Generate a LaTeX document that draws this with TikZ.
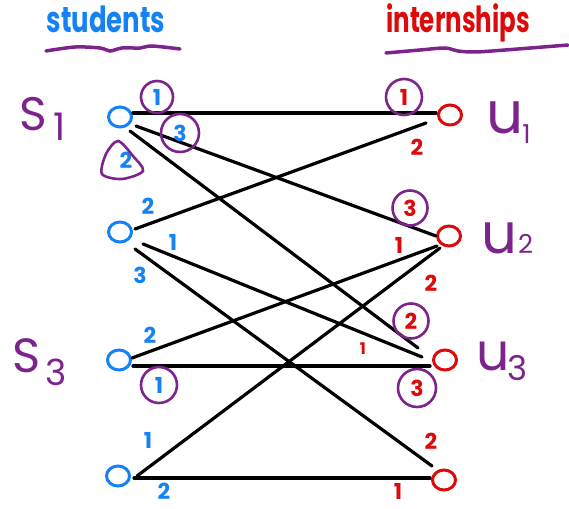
\documentclass[tikz,border=0pt]{standalone}
\usepackage{fontspec}
\setmainfont{Poppins}
\usetikzlibrary{shapes.geometric}
\definecolor{sblue}{RGB}{20,130,245}
\definecolor{ired}{RGB}{220,10,10}
\definecolor{ppl}{RGB}{125,35,140}
\begin{document}
\begin{tikzpicture}[x=1pt,y=-1pt,
  vtx/.style={draw, ellipse, line width=3pt, minimum width=23pt, minimum height=20pt, inner sep=0pt},
  svtx/.style={vtx, draw=sblue},
  ivtx/.style={vtx, draw=ired},
  edge/.style={black, line width=3.2pt, line cap=round},
  lab/.style={font=\fontsize{22}{22}\selectfont\bfseries, inner sep=0pt},
  slab/.style={lab, text=sblue},
  ilab/.style={lab, text=ired},
  ring/.style={draw=ppl, line width=2.6pt, circle, minimum size=34pt, inner sep=0pt},
  uline/.style={ppl, line width=3.5pt, line cap=round},
  big/.style={text=ppl, inner sep=0pt, anchor=base west}
]
\useasboundingbox (0,0) rectangle (569,508);

% headers
\node[text=sblue, font=\fontsize{36}{36}\selectfont\bfseries, xscale=0.72, anchor=base] (hs) at (106,33) {students};
\draw[uline] plot[smooth] coordinates {(46,51) (75,47) (100,48) (110,51) (122,48) (140,48) (152,46) (180,49)};
\node[text=ired, font=\fontsize{36}{36}\selectfont\bfseries, xscale=0.68, anchor=base] (hi) at (458,33) {internships};
\draw[uline] plot[smooth] coordinates {(386,53) (420,50) (445,48) (458,51) (475,52) (505,50) (568,45)};

% side labels
\node[big] (S1) at (19,130) {\fontsize{47}{47}\selectfont S\hspace{7pt}\raisebox{-10pt}{\fontsize{38}{38}\selectfont 1}};
\node[big] (S3) at (12,372) {\fontsize{48}{48}\selectfont S\hspace{5pt}\raisebox{-13pt}{\fontsize{36}{36}\selectfont 3}};
\node[big] (U1) at (486,133) {\fontsize{58}{58}\selectfont u\hspace{-1pt}\raisebox{-10pt}{\fontsize{26}{26}\selectfont 1}};
\node[big] (U2) at (481,253) {\fontsize{56}{56}\selectfont u\hspace{1pt}\raisebox{0pt}{\fontsize{26}{26}\selectfont 2}};
\node[big] (U3) at (476,370) {\fontsize{52}{52}\selectfont u\hspace{-2pt}\raisebox{-10pt}{\fontsize{34}{34}\selectfont 3}};

% vertices
\node[svtx] (L1) at (120,117) {};
\node[svtx] (L2) at (120,232) {};
\node[svtx] (L3) at (119,360) {};
\node[svtx] (L4) at (118,476) {};
\node[ivtx] (R1) at (450,115) {};
\node[ivtx] (R2) at (449,236) {};
\node[ivtx] (R3) at (445,360) {};
\node[ivtx] (R4) at (444,480) {};

% edges
\draw[edge] ([shift={(13,-4)}]L1.center) -- ([shift={(-14,-2)}]R1.center);
\draw[edge] ([shift={(16,9)}]L1.center) -- ([shift={(-13,0)}]R2.center);
\draw[edge] ([shift={(10,14)}]L1.center) -- ([shift={(-27,-12)}]R3.center);
\draw[edge] ([shift={(15,-3)}]L2.center) -- ([shift={(-24,8)}]R1.center);
\draw[edge] ([shift={(23,12)}]L2.center) -- ([shift={(-23,-3)}]R3.center);
\draw[edge] ([shift={(15,17)}]L2.center) -- ([shift={(-12,-14)}]R4.center);
\draw[edge] ([shift={(13,-2)}]L3.center) -- ([shift={(-12,10)}]R2.center);
\draw[edge] ([shift={(14,6)}]L3.center) -- ([shift={(-15,6)}]R3.center);
\draw[edge] ([shift={(19,0)}]L4.center) -- ([shift={(-9,12)}]R2.center);
\draw[edge] ([shift={(16,2)}]L4.center) -- ([shift={(-14,-2)}]R4.center);

% student preference labels
\node[ring, slab, minimum size=32pt] (a11) at (157,97) {1};
\node[ring, slab, minimum size=38pt] (a12) at (180,133) {3};
\node[slab] (a13) at (126,160) {2};
\draw[ppl, line width=2.6pt] plot[smooth cycle] coordinates {(118,141) (106,154) (102,174) (122,179) (143,171) (133,156)};
\node[slab] (a21) at (148,206) {2};
\node[slab] (a22) at (173,242) {1};
\node[slab] (a23) at (140,275) {3};
\node[slab] (a31) at (150,335) {2};
\node[ring, slab, minimum size=36pt] (a32) at (159,385) {1};
\node[slab] (a41) at (148,440) {1};
\node[slab] (a42) at (164,491) {2};

% internship preference labels
\node[ring, ilab, minimum size=36pt] (b11) at (404,97) {1};
\node[ilab] (b12) at (417,147) {2};
\node[ring, ilab, minimum size=35pt] (b21) at (410,208) {3};
\node[ilab] (b22) at (399,245) {1};
\node[ilab] (b23) at (431,283) {2};
\node[ring, ilab, minimum size=35pt] (b31) at (411,321) {2};
\node[ilab, font=\fontsize{16}{16}\selectfont\bfseries] (b32) at (363,349) {1};
\node[ring, ilab, minimum size=38pt] (b33) at (417,388) {3};
\node[ilab] (b41) at (431,441) {2};
\node[ilab] (b42) at (398,491) {1};
\end{tikzpicture}
\end{document}
